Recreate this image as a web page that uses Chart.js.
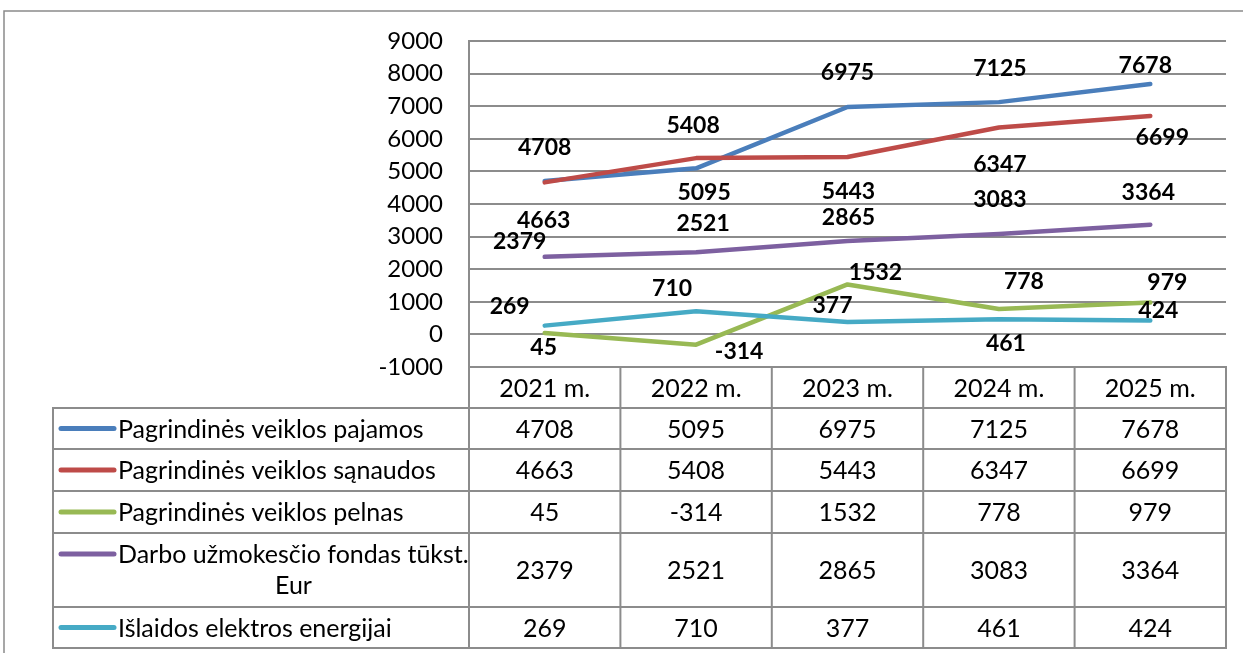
<!DOCTYPE html>
<html>
<head>
<meta charset="utf-8">
<script src="https://cdn.jsdelivr.net/npm/chart.js@4.4.1/dist/chart.umd.min.js"></script>
<style>
  html, body { margin: 0; padding: 0; background: #fff; }
  #wrap { width: 1243px; height: 653px; }
</style>
</head>
<body>
<div id="wrap"><canvas id="lineChart" width="1243" height="653"></canvas></div>
<script>
// data
const years = ["2021 m.", "2022 m.", "2023 m.", "2024 m.", "2025 m."];
const seriesNames = [
  ["Pagrindinės veiklos pajamos"],
  ["Pagrindinės veiklos sąnaudos"],
  ["Pagrindinės veiklos pelnas"],
  ["Darbo užmokesčio fondas tūkst.", "Eur"],
  ["Išlaidos elektros energijai"]
];
const pajamos = [4708, 5095, 6975, 7125, 7678];
const sanaudos = [4663, 5408, 5443, 6347, 6699];
const pelnas = [45, -314, 1532, 778, 979];
const fondas = [2379, 2521, 2865, 3083, 3364];
const islaidos = [269, 710, 377, 461, 424];
const yMin = -1000, yMax = 9000, yStep = 1000;

const colors = ["#4A7EBB", "#BE4B48", "#98B954", "#7D60A0", "#46AAC5"];

// where each value label sits relative to its point (dx, dy), like Excel placed them
const labelOffsets = [
  [[0, -33], [8, 24], [0, -34], [1, -34], [-5, -19]],
  [[-1, 38], [-3, -33], [1, 35], [1, 37], [12, 22]],
  [[-1, 15], [43, 7], [28, -12], [25, -27], [17, -20]],
  [[-25, -15], [7, -29], [1, -23], [1, -34], [-2, -32]],
  [[-35, -19], [-24, -23], [-15, -17], [7, 24], [8, -10]]
];

const FONT = "Lato, 'Liberation Sans', sans-serif";
const GRID = "#8c8c8c";
const TEXT_SIZE = 25;

// value labels drawn next to each point
const valueLabels = {
  id: "valueLabels",
  afterDatasetsDraw(chart) {
    const ctx = chart.ctx;
    ctx.save();
    ctx.font = "bold 23px " + FONT;
    ctx.fillStyle = "#000";
    ctx.textAlign = "center";
    ctx.textBaseline = "middle";
    chart.data.datasets.forEach((ds, di) => {
      chart.getDatasetMeta(di).data.forEach((pt, i) => {
        const off = labelOffsets[di][i];
        ctx.fillText(String(ds.data[i]), pt.x + off[0], pt.y + off[1]);
      });
    });
    ctx.restore();
  }
};

// Excel-style data table under the plot + outer frame
const rowHeights = [41, 42, 42, 74, 41];
const dataTable = {
  id: "dataTable",
  afterDraw(chart) {
    const ctx = chart.ctx;
    const xs = chart.scales.x;
    const area = chart.chartArea;
    const n = years.length;
    const colW = (area.right - area.left) / n;
    const top = area.bottom;
    const headH = 41;
    const tableLeft = 53;
    ctx.save();

    // outer frame
    ctx.strokeStyle = "#8a8a8a";
    ctx.lineWidth = 1.5;
    ctx.beginPath();
    ctx.moveTo(4, 700);
    ctx.lineTo(4, 11);
    ctx.lineTo(1300, 11);
    ctx.stroke();

    ctx.strokeStyle = GRID;
    ctx.lineWidth = 2;
    // header row
    ctx.strokeRect(area.left, top, area.right - area.left, headH);
    ctx.font = TEXT_SIZE + "px " + FONT;
    ctx.fillStyle = "#000";
    ctx.textAlign = "center";
    ctx.textBaseline = "middle";
    years.forEach((y, i) => {
      const cx = xs.getPixelForValue(i);
      ctx.fillText(y, cx, top + headH / 2 + 1);
      if (i > 0) {
        ctx.beginPath();
        ctx.moveTo(area.left + colW * i, top);
        ctx.lineTo(area.left + colW * i, top + headH);
        ctx.stroke();
      }
    });

    // body rows
    let y = top + headH;
    chart.data.datasets.forEach((ds, di) => {
      const h = rowHeights[di];
      ctx.strokeStyle = GRID;
      ctx.lineWidth = 2;
      ctx.strokeRect(tableLeft, y, area.right - tableLeft, h);
      for (let i = 0; i <= n - 1; i++) {
        ctx.beginPath();
        ctx.moveTo(area.left + colW * i, y);
        ctx.lineTo(area.left + colW * i, y + h);
        ctx.stroke();
      }
      // legend key
      const lines = seriesNames[di];
      const firstY = lines.length > 1 ? y + 21 : y + h / 2;
      ctx.strokeStyle = ds.borderColor;
      ctx.lineWidth = 5;
      ctx.lineCap = "round";
      ctx.beginPath();
      ctx.moveTo(61, firstY);
      ctx.lineTo(114, firstY);
      ctx.stroke();
      ctx.lineCap = "butt";
      ctx.fillStyle = "#000";
      ctx.font = TEXT_SIZE + "px " + FONT;
      ctx.textAlign = "left";
      ctx.fillText(lines[0], 118, firstY + 1);
      ctx.textAlign = "center";
      for (let li = 1; li < lines.length; li++) {
        ctx.fillText(lines[li], (118 + area.left) / 2, firstY + li * 32);
      }
      ds.data.forEach((v, i) => {
        ctx.fillText(String(v), xs.getPixelForValue(i), y + h / 2 + 1);
      });
      y += h;
    });
    ctx.restore();
  }
};

Chart.defaults.font.family = FONT;

new Chart(document.getElementById("lineChart"), {
  type: "line",
  data: {
    labels: years,
    datasets: [pajamos, sanaudos, pelnas, fondas, islaidos].map((d, i) => ({
      label: seriesNames[i].join(" "),
      data: d,
      borderColor: colors[i],
      backgroundColor: colors[i],
      borderWidth: 4.5,
      borderCapStyle: "round",
      borderJoinStyle: "round",
      pointRadius: 0,
      tension: 0,
      order: 5 - i
    }))
  },
  options: {
    responsive: false,
    animation: false,
    layout: { padding: { left: 0, top: 41, right: 17, bottom: 286 } },
    plugins: {
      legend: { display: false },
      tooltip: { enabled: false }
    },
    scales: {
      x: {
        display: false,
        offset: true
      },
      y: {
        min: yMin,
        max: yMax,
        afterFit(scale) { scale.width = 469; },
        ticks: {
          stepSize: yStep,
          padding: 26,
          color: "#000",
          font: { size: 24 },
          callback: (v) => String(v)
        },
        grid: { color: GRID, lineWidth: 2, drawTicks: false },
        border: { display: true, color: GRID, width: 2 }
      }
    }
  },
  plugins: [valueLabels, dataTable]
});
</script>
</body>
</html>
